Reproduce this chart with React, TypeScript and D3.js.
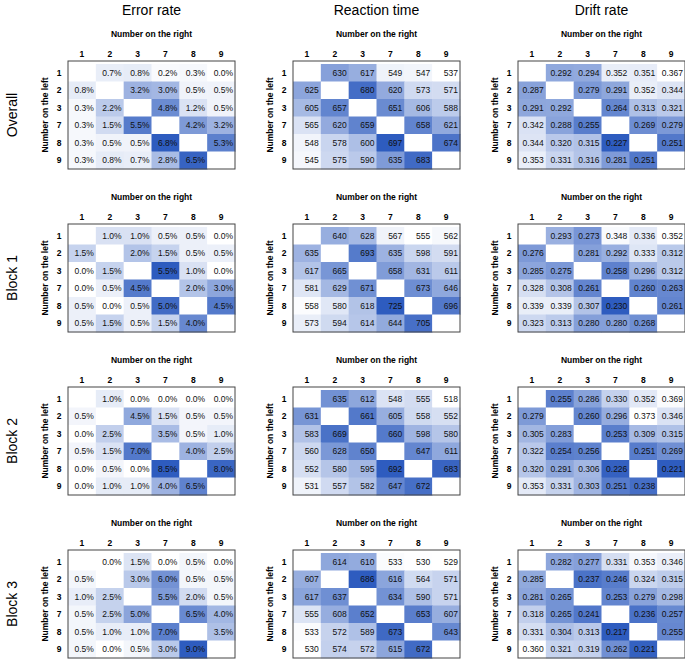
import React from "react";
import * as d3 from "d3";

// Digit labels shared by rows ("Number on the left") and columns ("Number on the right")
const digits = ["1", "2", "3", "7", "8", "9"];
const measureTitles = ["Error rate", "Reaction time", "Drift rate"];
const blockTitles = ["Overall", "Block 1", "Block 2", "Block 3"];

const _ = null;

// Error rate (%)
const errorOverall = [
  [_, 0.7, 0.8, 0.2, 0.3, 0.0],
  [0.8, _, 3.2, 3.0, 0.5, 0.5],
  [0.3, 2.2, _, 4.8, 1.2, 0.5],
  [0.3, 1.5, 5.5, _, 4.2, 3.2],
  [0.3, 0.5, 0.5, 6.8, _, 5.3],
  [0.3, 0.8, 0.7, 2.8, 6.5, _],
];
const errorBlock1 = [
  [_, 1.0, 1.0, 0.5, 0.5, 0.0],
  [1.5, _, 2.0, 1.5, 0.5, 0.5],
  [0.0, 1.5, _, 5.5, 1.0, 0.0],
  [0.0, 0.5, 4.5, _, 2.0, 3.0],
  [0.5, 0.0, 0.5, 5.0, _, 4.5],
  [0.5, 1.5, 0.5, 1.5, 4.0, _],
];
const errorBlock2 = [
  [_, 1.0, 0.0, 0.0, 0.0, 0.0],
  [0.5, _, 4.5, 1.5, 0.5, 0.5],
  [0.0, 2.5, _, 3.5, 0.5, 1.0],
  [0.5, 1.5, 7.0, _, 4.0, 2.5],
  [0.0, 0.5, 0.0, 8.5, _, 8.0],
  [0.0, 1.0, 1.0, 4.0, 6.5, _],
];
const errorBlock3 = [
  [_, 0.0, 1.5, 0.0, 0.5, 0.0],
  [0.5, _, 3.0, 6.0, 0.5, 0.5],
  [1.0, 2.5, _, 5.5, 2.0, 0.5],
  [0.5, 2.5, 5.0, _, 6.5, 4.0],
  [0.5, 1.0, 1.0, 7.0, _, 3.5],
  [0.5, 0.0, 0.5, 3.0, 9.0, _],
];

// Reaction time (ms)
const rtOverall = [
  [_, 630, 617, 549, 547, 537],
  [625, _, 680, 620, 573, 571],
  [605, 657, _, 651, 606, 588],
  [565, 620, 659, _, 658, 621],
  [548, 578, 600, 697, _, 674],
  [545, 575, 590, 635, 683, _],
];
const rtBlock1 = [
  [_, 640, 628, 567, 555, 562],
  [635, _, 693, 635, 598, 591],
  [617, 665, _, 658, 631, 611],
  [581, 629, 671, _, 673, 646],
  [558, 580, 618, 725, _, 696],
  [573, 594, 614, 644, 705, _],
];
const rtBlock2 = [
  [_, 635, 612, 548, 555, 518],
  [631, _, 661, 605, 558, 552],
  [583, 669, _, 660, 598, 580],
  [560, 628, 650, _, 647, 611],
  [552, 580, 595, 692, _, 683],
  [531, 557, 582, 647, 672, _],
];
const rtBlock3 = [
  [_, 614, 610, 533, 530, 529],
  [607, _, 686, 616, 564, 571],
  [617, 637, _, 634, 590, 571],
  [555, 608, 652, _, 653, 607],
  [533, 572, 589, 673, _, 643],
  [530, 574, 572, 615, 672, _],
];

// Drift rate
const driftOverall = [
  [_, 0.292, 0.294, 0.352, 0.351, 0.367],
  [0.287, _, 0.279, 0.291, 0.352, 0.344],
  [0.291, 0.292, _, 0.264, 0.313, 0.321],
  [0.342, 0.288, 0.255, _, 0.269, 0.279],
  [0.344, 0.32, 0.315, 0.227, _, 0.251],
  [0.353, 0.331, 0.316, 0.281, 0.251, _],
];
const driftBlock1 = [
  [_, 0.293, 0.273, 0.348, 0.336, 0.352],
  [0.276, _, 0.281, 0.292, 0.333, 0.312],
  [0.285, 0.275, _, 0.258, 0.296, 0.312],
  [0.328, 0.308, 0.261, _, 0.26, 0.263],
  [0.339, 0.339, 0.307, 0.23, _, 0.261],
  [0.323, 0.313, 0.28, 0.28, 0.268, _],
];
const driftBlock2 = [
  [_, 0.255, 0.286, 0.33, 0.352, 0.369],
  [0.279, _, 0.26, 0.296, 0.373, 0.346],
  [0.305, 0.283, _, 0.253, 0.309, 0.315],
  [0.322, 0.254, 0.256, _, 0.251, 0.269],
  [0.32, 0.291, 0.306, 0.226, _, 0.221],
  [0.353, 0.331, 0.303, 0.251, 0.238, _],
];
const driftBlock3 = [
  [_, 0.282, 0.277, 0.331, 0.353, 0.346],
  [0.285, _, 0.237, 0.246, 0.324, 0.315],
  [0.281, 0.265, _, 0.253, 0.279, 0.298],
  [0.318, 0.265, 0.241, _, 0.236, 0.257],
  [0.331, 0.304, 0.313, 0.217, _, 0.255],
  [0.36, 0.321, 0.319, 0.262, 0.221, _],
];

type Grid = (number | null)[][];

const errorGrids: Grid[] = [errorOverall, errorBlock1, errorBlock2, errorBlock3];
const rtGrids: Grid[] = [rtOverall, rtBlock1, rtBlock2, rtBlock3];
const driftGrids: Grid[] = [driftOverall, driftBlock1, driftBlock2, driftBlock3];

const formats = [
  (v: number) => d3.format(".1f")(v) + "%",
  (v: number) => d3.format(".0f")(v),
  (v: number) => d3.format(".3f")(v),
];
// Drift rate runs reversed: slower drift is darker
const reversed = [false, false, true];

const W = 685;
const H = 660;
const FONT = "Liberation Sans, Arial, Helvetica, sans-serif";
const LOW = "#ffffff";
const HIGH = "#2e5cbf";

const panelLeft = [68, 293, 518];
const panelWidth = 167;
const borderTop = [61, 224, 387, 550];
const cellOffset = 3;
const cellsHeight = 105;

function Heatmap({ grid, measure, left, top }: { grid: Grid; measure: number; left: number; top: number }) {
  const x = d3.scaleBand<string>().domain(digits).range([left, left + panelWidth]);
  const cellTop = top + cellOffset;
  const y = d3.scaleBand<string>().domain(digits).range([cellTop, cellTop + cellsHeight]);
  const vals = grid.flat().filter((v): v is number => v !== null);
  const [lo, hi] = d3.extent(vals) as [number, number];
  const t = d3.scaleLinear().domain(reversed[measure] ? [hi, lo] : [lo, hi]).range([0, 1]);
  const color = (v: number) => d3.interpolateRgb(LOW, HIGH)(t(v));
  const fmt = formats[measure];
  const bottom = cellTop + cellsHeight;
  const midY = (top + bottom) / 2;
  return (
    <g>
      {grid.map((row, i) =>
        row.map((v, j) => (
          <rect
            key={`c${i}-${j}`}
            x={x(digits[j])!}
            y={y(digits[i])!}
            width={x.bandwidth() + 0.5}
            height={y.bandwidth() + 0.5}
            fill={v === null ? "#ffffff" : color(v)}
          />
        ))
      )}
      {grid.map((row, i) =>
        row.map((v, j) =>
          v === null ? null : (
            <text
              key={`t${i}-${j}`}
              x={x(digits[j])! + x.bandwidth() - 2}
              y={y(digits[i])! + y.bandwidth() / 2}
              dy="0.35em"
              textAnchor="end"
              fontSize={8.5}
              fill="#111"
            >
              {fmt(v)}
            </text>
          )
        )
      )}
      <rect x={left} y={top} width={panelWidth} height={bottom - top} fill="none" stroke="#444" strokeWidth={1} />
      {digits.map((d) => (
        <text key={`cx${d}`} x={x(d)! + x.bandwidth() / 2} y={top - 7} dy="0.35em" textAnchor="middle" fontSize={8.5} fontWeight="bold">
          {d}
        </text>
      ))}
      {digits.map((d) => (
        <text key={`ry${d}`} x={left - 9} y={y(d)! + y.bandwidth() / 2} dy="0.35em" textAnchor="middle" fontSize={8.5} fontWeight="bold">
          {d}
        </text>
      ))}
      <text x={left + panelWidth / 2} y={top - 27} dy="0.35em" textAnchor="middle" fontSize={8.5} fontWeight="bold">
        Number on the right
      </text>
      <text transform={`translate(${left - 23},${midY}) rotate(-90)`} textAnchor="middle" dy="0.35em" fontSize={8.5} fontWeight="bold">
        Number on the left
      </text>
    </g>
  );
}

export default function App() {
  const gridsByMeasure = [errorGrids, rtGrids, driftGrids];
  return (
    <svg
      width={W}
      height={H}
      style={{ position: "absolute", left: 0, top: 0, display: "block", background: "#fff" }}
      fontFamily={FONT}
    >
      {measureTitles.map((title, m) => (
        <text key={title} x={panelLeft[m] + panelWidth / 2} y={10} dy="0.35em" textAnchor="middle" fontSize={14}>
          {title}
        </text>
      ))}
      {blockTitles.map((b, r) => (
        <text
          key={b}
          transform={`translate(12,${borderTop[r] + (cellOffset + cellsHeight) / 2}) rotate(-90)`}
          textAnchor="middle"
          dy="0.35em"
          fontSize={14}
        >
          {b}
        </text>
      ))}
      {gridsByMeasure.map((grids, m) =>
        grids.map((grid, r) => (
          <Heatmap key={`${m}-${r}`} grid={grid} measure={m} left={panelLeft[m]} top={borderTop[r]} />
        ))
      )}
    </svg>
  );
}
